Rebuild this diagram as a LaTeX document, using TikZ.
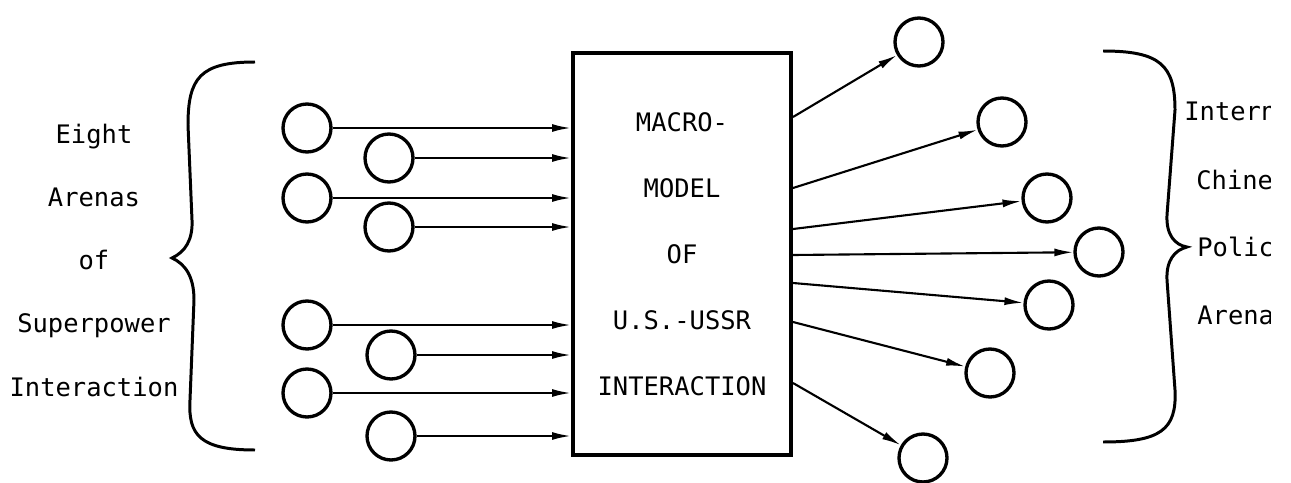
\documentclass[tikz,border=0pt]{standalone}
\usepackage{fontspec}
\setmonofont{DejaVu Sans Mono}
\usetikzlibrary{arrows.meta}

\begin{document}
\begin{tikzpicture}[x=0.02cm, y=-0.02cm, >={Latex[length=3.8mm,width=1.6mm]},
  every node/.style={font=\ttfamily\fontsize{14.5}{17}\selectfont},
  arena/.style={circle, draw, line width=1.9pt, minimum size=0.96cm, inner sep=0pt},
  link/.style={->, line width=1.2pt},
  curly/.style={line width=1.7pt},
  lbl/.style={inner sep=0pt, anchor=west}]
\useasboundingbox (0,0) rectangle (1291,483);

\node[draw, line width=2.3pt, minimum width=4.36cm, minimum height=8.04cm, align=center,
  font=\ttfamily\fontsize{14.5}{37.5}\selectfont] (mm) at (682,254)
  {MACRO-\\MODEL\\OF\\U.S.-USSR\\INTERACTION};

% arenas feeding the model
\foreach \x/\y [count=\i] in {307/128, 389/158, 307/198, 389/227, 307/325, 391/355, 307/393, 391/436}
  \node[arena] (in\i) at (\x,\y) {};
\foreach \i in {1,...,8}
  \draw[link] (in\i) -- (in\i -| mm.west);

% outputs to the Chinese arenas
\foreach \x/\y [count=\i] in {919/42, 1002/122, 1047/198, 1099/252, 1049/305, 990/373, 923/458}
  \node[arena] (out\i) at (\x,\y) {};
\foreach \y [count=\i] in {117,188,229,255,283,322,383} {
  \coordinate (s\i) at (mm.east |- 0,\y);
  \draw[link] (s\i) -- (out\i);
}

\draw[curly] (255,62) .. controls (200,62) and (188,78) .. (188,125) -- (192,220)
  .. controls (193,240) and (185,252) .. (172,258) .. controls (185,264) and (194,276) .. (194,300)
  -- (190,400) .. controls (188,435) and (200,450) .. (255,450);
\draw[curly] (1103,51) .. controls (1160,51) and (1175,65) .. (1175,110) -- (1167,215)
  .. controls (1166,235) and (1175,245) .. (1187,247) .. controls (1175,250) and (1166,260) .. (1167,280)
  -- (1175,390) .. controls (1177,430) and (1160,442) .. (1103,442);

\node[align=center, font=\ttfamily\fontsize{14.5}{36}\selectfont] (eight) at (94,260)
  {Eight\\Arenas\\of\\Superpower\\Interaction};

\begin{scope}
\clip (0,0) rectangle (1270,483);
\foreach \x/\y/\t [count=\i] in {1184/111/Intern, 1196/180/Chine, 1197/247/Polic, 1197/315/Arena}
  \node[lbl] (r\i) at (\x,\y) {\t};
\end{scope}
\end{tikzpicture}
\end{document}
